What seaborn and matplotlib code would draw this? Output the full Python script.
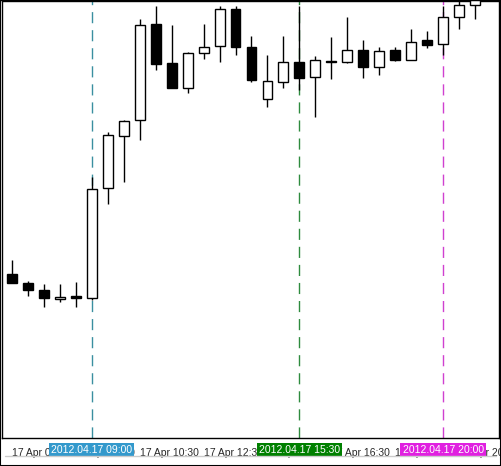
import matplotlib
matplotlib.use("Agg")
import matplotlib.pyplot as plt
import seaborn as sns
import numpy as np

# candle values (screen units, larger = lower on the chart)
highs = [260, 281, 284, 284, 282, 177, 132, 120, 19, 6, 25, 52, 24, 6, 6,
         36, 55, 36, 6, 56, 37, 17, 40, 47, 47, 29, 31, 6, 0, 0]
opens = [274, 283, 290, 299, 296, 298, 188, 136, 120, 24, 63, 88, 53, 46, 9,
         47, 99, 82, 62, 77, 61, 62, 50, 67, 50, 60, 40, 44, 17, 5]
closes = [283, 290, 298, 297, 298, 189, 135, 121, 25, 64, 88, 53, 47, 9, 47,
          80, 81, 62, 78, 60, 61, 50, 67, 51, 60, 42, 45, 17, 5, 0]
lows = [283, 296, 307, 302, 307, 300, 204, 182, 140, 70, 88, 93, 59, 62, 55,
        82, 107, 88, 90, 117, 79, 63, 78, 75, 61, 60, 48, 55, 29, 19]
tick_labels = ["17 Apr 06:30", "17 Apr 08:30", "17 Apr 10:30", "17 Apr 12:30",
               "17 Apr 14:30", "17 Apr 16:30", "17 Apr 18:30", "17 Apr 20:30"]
tick_pos = [0, 4, 8, 12, 16, 20, 24, 28]
marker_pos = [5, 18, 27]
marker_labels = ["2012.04.17 09:00", "2012.04.17 15:30", "2012.04.17 20:00"]
marker_colors = ["#3399cc", "#008000", "#e020e0"]
line_colors = ["#3a8fa0", "#2e8b3e", "#d040d0"]

sns.set_style("white")
plt.rcParams['font.family'] = ['Liberation Sans', 'DejaVu Sans']

fig = plt.figure(figsize=(5.01, 4.66), dpi=100)
ax = fig.add_axes([2 / 501, 28 / 466, 497 / 501, 437 / 466])
x = np.arange(len(highs))
o = np.array(opens)
c = np.array(closes)

for xi, lc in zip(marker_pos, line_colors):
    ax.axvline(xi, color=lc, lw=1, ls=(0, (8, 5)), zorder=1)

ax.vlines(x, highs, lows, color="black", lw=1, zorder=2)
face = ["white" if ci < oi else "black" for oi, ci in zip(o, c)]
h = np.where(np.abs(c - o) < 1, 1, c - o)
ax.bar(x, h, bottom=o, width=0.62, color=face, edgecolor="black", lw=1, zorder=3)

ax.set_xlim(-0.625, 30.5)
ax.set_ylim(438, 1)
ax.set_yticks([])
ax.set_xticks(tick_pos)
ax.set_xticklabels(tick_labels, ha="left", fontsize=7.5)
ax.tick_params(axis="x", length=4, direction="out", pad=3, color="black")
for lbl in ax.get_xticklabels():
    lbl.set_zorder(1)
for s in ["left", "top", "right", "bottom"]:
    ax.spines[s].set_color("black")
    ax.spines[s].set_linewidth(1)

for xi, lab, col in zip(marker_pos, marker_labels, marker_colors):
    ax.text(xi, -12, lab, transform=ax.get_xaxis_transform() + matplotlib.transforms.ScaledTranslation(0, 0, fig.dpi_scale_trans),
            ha="center", va="center", fontsize=7.5, color="white", zorder=10, clip_on=False)
    ax.annotate(lab, (xi, 0), xycoords=ax.get_xaxis_transform(), xytext=(0, -12),
                textcoords="offset pixels", ha="center", va="center", fontsize=7.5,
                color="white", zorder=10, annotation_clip=False,
                bbox=dict(boxstyle="square,pad=0.2", fc=col, ec="none"))

fig.add_artist(plt.Line2D([0.01, 0.99], [10 / 466, 10 / 466], color="#cccccc", lw=1))
fig.patches.append(plt.Rectangle((0, 0), 1, 1, transform=fig.transFigure,
                                 fill=False, ec="black", lw=1.5))
fig.savefig("out.png", dpi=100)
